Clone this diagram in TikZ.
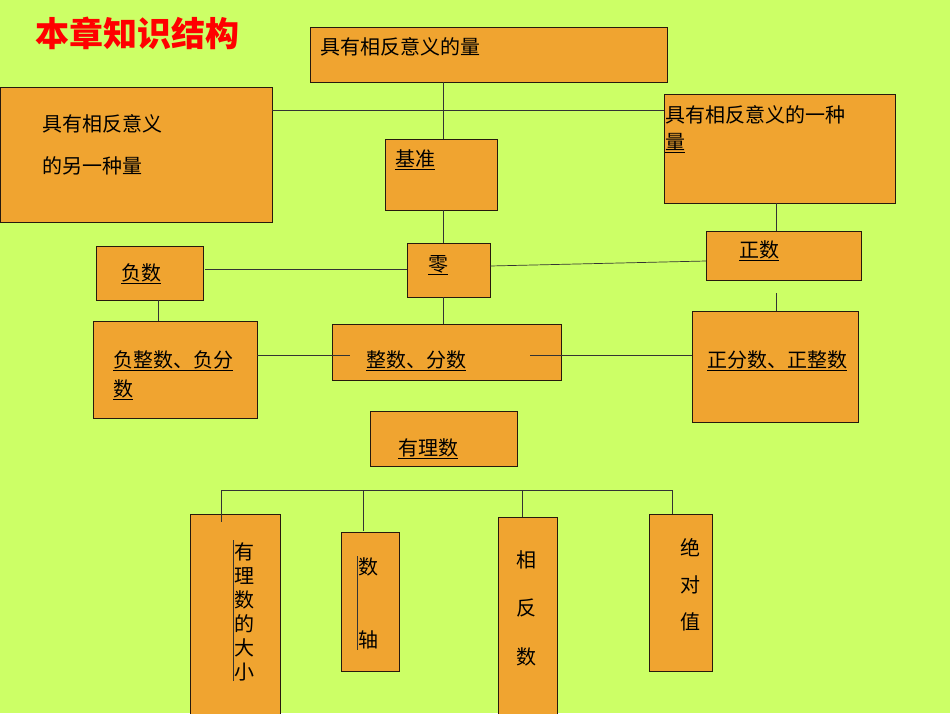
\documentclass[tikz,border=0pt]{standalone}
\usepackage{fontspec}
\newfontfamily\cjk{Noto Sans CJK SC}
\definecolor{bg}{HTML}{CCFF66}
\definecolor{box}{HTML}{F0A430}
\begin{document}
\begin{tikzpicture}[x=1pt,y=-1pt,
  bx/.style={draw=black!80!brown,fill=box,line width=0.8pt},
  tx/.style={anchor=west,font=\cjk\fontsize{20}{24}\selectfont,inner sep=0pt},
  ln/.style={line width=0.7pt,black!80}]
\fill[bg] (0,0) rectangle (950,713);
\useasboundingbox (0,0) rectangle (950,713);
\node[anchor=west,text=red,font=\cjk\bfseries\fontsize{34}{40}\selectfont,inner sep=0pt] (title) at (35,33) {本章知识结构};
% boxes
\draw[bx] (310,27) rectangle (667,82) coordinate (Abr);
\node[tx] (A) at (320,47) {具有相反意义的量};
\draw[bx] (0,87) rectangle (272,222);
\node[tx] (B1) at (42,124) {具有相反意义};
\node[tx] (B2) at (42,166) {的另一种量};
\draw[bx] (664,94) rectangle (895,203);
\node[tx] (C1) at (665,115) {具有相反意义的一种};
\node[tx] (C2) at (665,143) {\underline{量}};
\draw[bx] (385,139) rectangle (497,210);
\node[tx] (jz) at (395,160) {\underline{基准}};
\draw[bx] (96,246) rectangle (203,300);
\node[tx] (fs) at (121,274) {\underline{负数}};
\draw[bx] (407,243) rectangle (490,297);
\node[tx] (ling) at (428,265) {\underline{零}};
\draw[bx] (706,231) rectangle (861,280);
\node[tx] (zs) at (739,251) {\underline{正数}};
\draw[bx] (93,321) rectangle (257,418);
\node[tx] (fz1) at (113,361) {\underline{负整数、负分}};
\node[tx] (fz2) at (113,390) {\underline{数}};
\draw[bx] (332,324) rectangle (561,380);
\node[tx] (zf) at (366,361) {\underline{整数、分数}};
\draw[bx] (692,311) rectangle (858,422);
\node[tx] (zz) at (707,361) {\underline{正分数、正整数}};
\draw[bx] (370,411) rectangle (517,466);
\node[tx] (yl) at (398,449) {\underline{有理数}};
% bottom boxes
\draw[bx] (190,514) rectangle (280,716);
\draw[bx] (341,532) rectangle (399,671);
\draw[bx] (498,517) rectangle (557,716);
\draw[bx] (649,514) rectangle (712,671);
\foreach \c [count=\i] in {有,理,数,的,大,小}
  \node[tx,anchor=center] (d\i) at (244,528+24*\i) {\c};
\draw[ln] (233,540) -- (233,681);
\node[tx,anchor=center] (s1) at (368,567) {数};
\node[tx,anchor=center] (s2) at (368,640) {轴};
\draw[ln] (357,556) -- (357,650);
\node[tx,anchor=center] (x1) at (526,560) {相};
\node[tx,anchor=center] (x2) at (526,608) {反};
\node[tx,anchor=center] (x3) at (526,657) {数};
\node[tx,anchor=center] (j1) at (690,548) {绝};
\node[tx,anchor=center] (j2) at (690,585) {对};
\node[tx,anchor=center] (j3) at (690,622) {值};
% connectors
\coordinate (a1) at (443,82); \coordinate (a2) at (443,139);
\draw[ln] (a1) -- (a2);
\coordinate (h1) at (272,110); \coordinate (h2) at (664,110);
\draw[ln] (h1) -- (h2);
\coordinate (b1) at (443,210); \coordinate (b2) at (443,243);
\draw[ln] (b1) -- (b2);
\coordinate (l1) at (205,269); \coordinate (l2) at (407,269);
\draw[ln] (l1) -- (l2);
\coordinate (r1) at (490,266); \coordinate (r2) at (706,261);
\draw[ln] (r1) -- (r2);
\coordinate (c1) at (776,203); \coordinate (c2) at (776,231);
\draw[ln] (c1) -- (c2);
\coordinate (n1) at (158,300); \coordinate (n2) at (158,321);
\draw[ln] (n1) -- (n2);
\coordinate (z1) at (443,297); \coordinate (z2) at (443,324);
\draw[ln] (z1) -- (z2);
\coordinate (m1) at (257,355); \coordinate (m2) at (350,355);
\draw[ln] (m1) -- (m2);
\coordinate (m3) at (530,355); \coordinate (m4) at (692,355);
\draw[ln] (m3) -- (m4);
\coordinate (p1) at (776,293); \coordinate (p2) at (776,311);
\draw[ln] (p1) -- (p2);
\coordinate (t1) at (221,490); \coordinate (t2) at (672,490);
\draw[ln] (t1) -- (t2);
\coordinate (v1) at (221,522); \coordinate (v2) at (363,531);
\coordinate (v3) at (522,517); \coordinate (v4) at (672,514);
\draw[ln] (221,490) -- (v1);
\draw[ln] (363,490) -- (v2);
\draw[ln] (522,490) -- (v3);
\draw[ln] (672,490) -- (v4);
\end{tikzpicture}
\end{document}
